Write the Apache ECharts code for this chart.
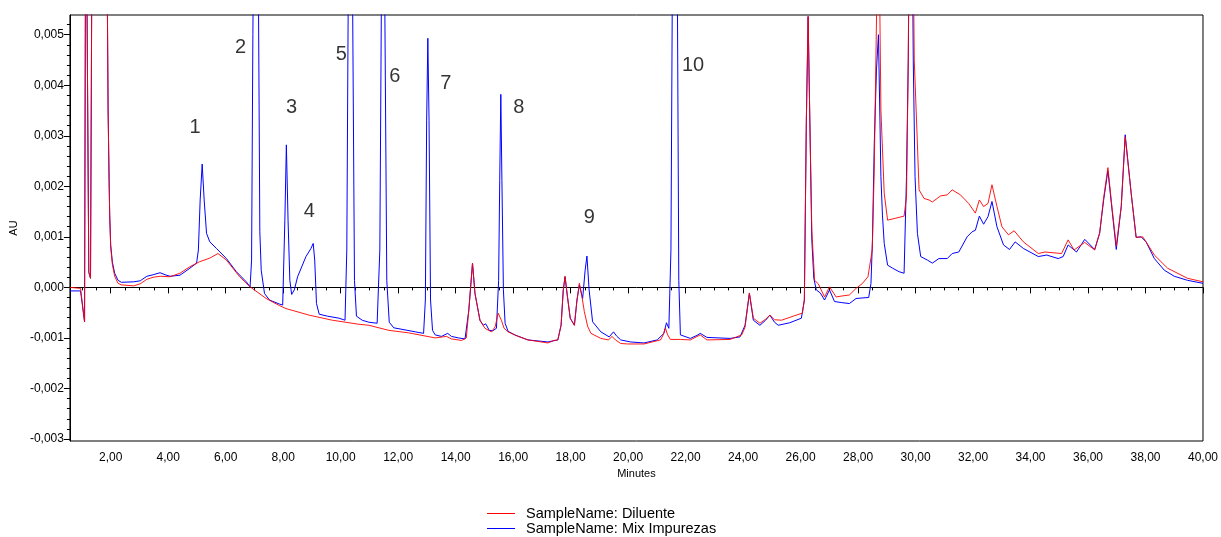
<!DOCTYPE html>
<html>
<head>
<meta charset="utf-8">
<script src="https://cdn.jsdelivr.net/npm/echarts@6/dist/echarts.min.js"></script>
<style>
  html, body { margin: 0; padding: 0; background: #fff; }
  #chart { width: 1221px; height: 537px; }
</style>
</head>
<body>
<div id="chart"></div>
<script>
// Chromatogram overlay: diluent blank vs. impurity mix (AU vs. minutes)
const FONT = '"Liberation Sans", Arial, sans-serif';

// [minutes, AU]
const diluente = [
  [0.58,0],[0.95,-0.00002],[1.089,-0.00068],[1.134,0.009],[1.185,0.009],[1.237,0.0003],[1.296,0.00018],
  [1.355,0.008],[1.642,0.012],[1.86,0.0075],[1.908,0.00351],[1.943,0.00212],[1.964,0.00143],[1.998,0.0008],
  [2.057,0.00045],[2.137,0.00022],[2.254,0.00008],[2.368,0.00005],[2.794,0.00003],[3.026,0.00007],
  [3.257,0.00016],[3.475,0.0002],[3.717,0.00022],[4.063,0.00021],[4.409,0.00028],[4.755,0.00041],
  [5.1,0.00051],[5.45,0.00058],[5.73,0.00067],[6.025,0.00054],[6.485,0.00021],[6.848,0.00001],
  [7.408,-0.00022],[7.868,-0.00036],[8.1,-0.00042],[8.906,-0.00055],[9.712,-0.00065],[10.636,-0.00073],
  [10.981,-0.00075],[11.673,-0.00085],[12.365,-0.0009],[13.288,-0.001],[13.679,-0.00097],[13.852,-0.00102],
  [14.209,-0.00105],[14.371,-0.001],[14.458,-0.00045],[14.586,0.00048],[14.672,-0.00012],[14.845,-0.00065],
  [15.018,-0.00081],[15.246,-0.00088],[15.374,-0.00078],[15.478,-0.00051],[15.53,-0.00048],[15.592,-0.00065],
  [15.685,-0.00081],[15.824,-0.00088],[16.17,-0.00097],[16.516,-0.00104],[17.208,-0.0011],[17.416,-0.00105],
  [17.554,-0.00104],[17.668,-0.00075],[17.744,-0.00005],[17.806,0.00022],[17.882,-0.00015],[17.986,-0.00061],
  [18.131,-0.00075],[18.221,-0.00025],[18.304,0.00008],[18.384,-0.00015],[18.477,-0.00048],[18.591,-0.00077],
  [18.706,-0.00091],[19.051,-0.00101],[19.318,-0.00104],[19.439,-0.00097],[19.56,-0.00104],[19.743,-0.00111],
  [19.975,-0.00112],[20.552,-0.00112],[21.128,-0.00104],[21.221,-0.00094],[21.299,-0.00081],[21.375,-0.00094],
  [21.472,-0.00103],[21.819,-0.00103],[22.165,-0.00104],[22.51,-0.00094],[22.742,-0.00104],[23.548,-0.00103],
  [23.952,-0.00094],[24.067,-0.00079],[24.219,-0.00011],[24.357,-0.00061],[24.586,-0.00071],[24.783,-0.00063],
  [24.931,-0.00055],[25.094,-0.00064],[25.337,-0.00065],[25.741,-0.00057],[26.063,-0.00051],[26.132,-0.00025],
  [26.201,0.00331],[26.263,0.00536],[26.322,0.00331],[26.391,0.00113],[26.488,0.00014],[26.616,0.00007],
  [26.834,-0.00019],[27.007,0.00001],[27.237,-0.00019],[27.444,-0.00017],[27.699,-0.00015],[27.93,-0.00002],
  [28.138,0.00007],[28.344,0.00021],[28.493,0.00074],[28.562,0.00232],[28.631,0.0049],[28.709,0.008],
  [28.795,0.00351],[28.91,0.00186],[29.027,0.00133],[29.315,0.00137],[29.601,0.00141],[29.685,0.00179],
  [29.747,0.0045],[29.833,0.012],[29.955,0.0045],[30.02,0.00351],[30.123,0.00193],[30.296,0.00176],
  [30.469,0.00173],[30.584,0.00169],[30.871,0.00181],[31.102,0.00183],[31.275,0.00193],[31.562,0.00183],
  [31.85,0.00166],[32.081,0.00147],[32.22,0.00173],[32.368,0.0016],[32.521,0.00166],[32.659,0.00203],
  [32.832,0.0016],[33.005,0.0012],[33.233,0.00104],[33.43,0.00112],[33.752,0.0009],[34.271,0.00067],
  [34.502,0.0007],[35.08,0.00067],[35.308,0.00094],[35.516,0.00074],[35.886,0.00089],[36.232,0.00074],
  [36.405,0.00108],[36.544,0.00177],[36.692,0.00237],[36.837,0.00157],[36.983,0.00082],[37.156,0.0016],
  [37.294,0.00298],[37.502,0.00186],[37.674,0.00099],[37.903,0.001],[38.066,0.00086],[38.308,0.00064],
  [38.768,0.00038],[39.46,0.00018],[40.0,0.00011]
];

// [minutes, AU]
const mixImpurezas = [
  [0.58,-0.00007],[0.95,-0.00007],[1.089,-0.00068],[1.134,0.009],[1.185,0.009],[1.237,0.0003],[1.296,0.00018],
  [1.355,0.008],[1.642,0.012],[1.86,0.0075],[1.908,0.00351],[1.943,0.00212],[1.964,0.00143],[1.998,0.00084],
  [2.057,0.0005],[2.137,0.00028],[2.254,0.00014],[2.368,0.0001],[2.794,0.00011],[3.026,0.00013],[3.257,0.00022],
  [3.475,0.00025],[3.717,0.00029],[3.89,0.00025],[4.063,0.00022],[4.409,0.00024],[4.755,0.00038],[4.987,0.00048],
  [5.049,0.00074],[5.111,0.00173],[5.181,0.00244],[5.25,0.00173],[5.333,0.00107],[5.447,0.0009],[5.679,0.00077],
  [6.025,0.00057],[6.37,0.00031],[6.716,0.00011],[6.848,0.00001],[6.9,0.00054],[6.945,0.005],[7.045,0.012],
  [7.142,0.0055],[7.187,0.0011],[7.235,0.00034],[7.349,-0.00012],[7.522,-0.00025],[7.868,-0.00033],[7.982,-0.00035],
  [8.058,0.00133],[8.11,0.00282],[8.169,0.00133],[8.231,0.00014],[8.294,-0.00014],[8.387,-0.00005],[8.501,0.00021],
  [8.792,0.00061],[8.965,0.00077],[9.044,0.00087],[9.096,0.00054],[9.158,-0.00032],[9.252,-0.00053],[9.539,-0.00057],
  [9.944,-0.00061],[10.151,-0.00065],[10.213,0.00074],[10.265,0.006],[10.335,0.012],[10.411,0.006],[10.48,0.00014],
  [10.549,-0.00057],[10.75,-0.00065],[10.981,-0.00069],[11.268,-0.00071],[11.362,0.00074],[11.42,0.006],
  [11.476,0.011],[11.53,0.006],[11.604,0.00014],[11.69,-0.00069],[11.846,-0.0008],[12.133,-0.00083],
  [12.597,-0.00088],[12.884,-0.00091],[12.946,-0.00025],[12.991,0.00331],[13.032,0.00493],[13.074,0.00331],
  [13.126,-0.00025],[13.195,-0.00085],[13.288,-0.00094],[13.506,-0.00097],[13.724,-0.00091],[13.852,-0.00097],
  [14.095,-0.001],[14.326,-0.00102],[14.458,-0.00045],[14.586,0.00048],[14.672,-0.00012],[14.845,-0.00065],
  [14.959,-0.00075],[15.046,-0.00072],[15.167,-0.00085],[15.288,-0.00086],[15.419,-0.00081],[15.495,0.00014],
  [15.533,0.00212],[15.571,0.00382],[15.609,0.00212],[15.661,-0.00005],[15.72,-0.00071],[15.824,-0.00087],
  [16.056,-0.00094],[16.516,-0.00104],[17.208,-0.00108],[17.554,-0.00104],[17.668,-0.00075],[17.744,-0.00005],
  [17.806,0.00021],[17.882,-0.00015],[17.986,-0.00061],[18.131,-0.00075],[18.221,-0.00025],[18.304,0.00005],
  [18.418,-0.00022],[18.505,0.00034],[18.567,0.00062],[18.643,-0.00005],[18.764,-0.00068],[19.051,-0.00088],
  [19.342,-0.00098],[19.491,-0.00088],[19.594,-0.00096],[19.743,-0.00104],[20.089,-0.00108],[20.552,-0.0011],
  [21.013,-0.00104],[21.244,-0.00091],[21.334,-0.0007],[21.417,-0.00081],[21.49,0.00074],[21.549,0.007],
  [21.625,0.014],[21.704,0.007],[21.763,0.00014],[21.819,-0.00094],[22.165,-0.00101],[22.396,-0.00095],
  [22.51,-0.00091],[22.742,-0.00099],[23.548,-0.00101],[23.894,-0.00098],[24.067,-0.00075],[24.219,-0.00012],
  [24.357,-0.00065],[24.586,-0.00075],[24.783,-0.00065],[24.931,-0.00055],[25.094,-0.00069],[25.222,-0.00075],
  [25.623,-0.0007],[26.028,-0.00061],[26.132,-0.00025],[26.201,0.00331],[26.263,0.00536],[26.322,0.00331],
  [26.391,0.00094],[26.46,0.00018],[26.547,-0.00005],[26.685,-0.00011],[26.834,-0.00025],[27.007,-0.00005],
  [27.18,-0.00028],[27.412,-0.0003],[27.699,-0.00032],[27.93,-0.00022],[28.138,-0.00021],[28.37,-0.0002],
  [28.449,0.00008],[28.501,0.00094],[28.564,0.00285],[28.64,0.0043],[28.709,0.005],[28.761,0.00331],
  [28.795,0.00219],[28.848,0.00143],[28.91,0.00087],[29.027,0.00044],[29.2,0.00038],[29.428,0.00031],
  [29.601,0.00028],[29.685,0.00219],[29.747,0.0045],[29.833,0.011],[29.92,0.0045],[29.982,0.00219],
  [30.065,0.00107],[30.179,0.00061],[30.411,0.00054],[30.584,0.00048],[30.812,0.00057],[31.102,0.00057],
  [31.275,0.00067],[31.504,0.0007],[31.794,0.001],[31.967,0.0011],[32.081,0.00113],[32.22,0.00141],
  [32.368,0.00125],[32.521,0.0014],[32.659,0.0017],[32.832,0.0012],[33.06,0.00084],[33.268,0.00075],
  [33.465,0.0009],[33.752,0.00077],[34.271,0.00061],[34.562,0.00064],[34.963,0.00057],[35.136,0.00061],
  [35.308,0.00084],[35.599,0.0007],[35.886,0.00095],[36.232,0.00075],[36.405,0.00107],[36.544,0.00173],
  [36.692,0.00231],[36.837,0.00153],[36.983,0.00075],[37.156,0.0016],[37.294,0.00302],[37.502,0.00186],
  [37.674,0.00099],[37.848,0.001],[38.021,0.0009],[38.308,0.00057],[38.654,0.00034],[39.0,0.00022],
  [39.46,0.00014],[40.0,0.00008]
];

// Peak numbers: [minutes, AU, label]
const peakLabels = [
  [4.93, 0.00317, '1'], [6.52, 0.00475, '2'], [8.29, 0.00356, '3'], [8.91, 0.0015, '4'],
  [10.02, 0.0046, '5'], [11.88, 0.00417, '6'], [13.66, 0.00403, '7'], [16.2, 0.00356, '8'],
  [18.65, 0.00139, '9'], [22.26, 0.0044, '10']
];

const seriesNames = ['SampleName: Diluente', 'SampleName: Mix Impurezas'];

// Axis range and ticks
const xRange = [0.58, 40];
const yRange = [-0.00304, 0.00539];
const xMajorTicks = [2, 4, 6, 8, 10, 12, 14, 16, 18, 20, 22, 24, 26, 28, 30, 32, 34, 36, 38, 40];
const yMajorTicks = [-0.003, -0.002, -0.001, 0, 0.001, 0.002, 0.003, 0.004, 0.005];

const xMinorTicks = [];
for (let k = 2; k < 80; k++) { if (k % 4 !== 0) xMinorTicks.push(k / 2); }
const yMinorTicks = [];
for (let k = -15; k <= 26; k++) { if (k % 5 !== 0) yMinorTicks.push(k / 5000); }

const black = '#000';
const baseText = { color: black, fontFamily: FONT };

const chart = echarts.init(document.getElementById('chart'), null, { renderer: 'canvas' });
chart.setOption({
  animation: false,
  backgroundColor: '#fff',
  textStyle: { fontFamily: FONT },
  grid: { left: 69, right: 12, top: 15, bottom: 96, show: true, borderColor: black, borderWidth: 1, backgroundColor: 'transparent' },
  legend: {
    data: seriesNames.map(n => ({ name: n, icon: 'rect' })),
    orient: 'vertical',
    left: 487, top: 506, padding: 0,
    itemWidth: 28, itemHeight: 1, itemGap: 0,
    textStyle: { ...baseText, fontSize: 14.5, lineHeight: 15, padding: [0, 0, 0, 6] }
  },
  xAxis: [
    {
      type: 'value', min: xRange[0], max: xRange[1], position: 'bottom',
      name: 'Minutes', nameLocation: 'middle', nameGap: 23,
      nameTextStyle: { ...baseText, fontSize: 11 },
      axisLine: { show: true, lineStyle: { color: black, width: 1 } },
      axisTick: { show: true, customValues: xMajorTicks, length: 6, lineStyle: { color: black } },
      axisLabel: { show: true, customValues: xMajorTicks, margin: 11, ...baseText, fontSize: 12,
        formatter: v => v.toFixed(2).replace('.', ',') },
      splitLine: { show: false }
    },
    {
      type: 'value', min: xRange[0], max: xRange[1], position: 'bottom',
      axisLine: { show: false },
      axisTick: { show: true, customValues: xMinorTicks, length: 3, lineStyle: { color: black } },
      axisLabel: { show: false },
      splitLine: { show: false }
    }
  ],
  yAxis: [
    {
      type: 'value', min: yRange[0], max: yRange[1], position: 'left',
      name: 'AU', nameLocation: 'middle', nameGap: 40, nameRotate: 90,
      nameTextStyle: { ...baseText, fontSize: 11 },
      axisLine: { show: true, lineStyle: { color: black, width: 1 } },
      axisTick: { show: true, customValues: yMajorTicks, length: 6, lineStyle: { color: black } },
      axisLabel: { show: true, customValues: yMajorTicks, margin: 6, ...baseText, fontSize: 12,
        formatter: v => v.toFixed(3).replace('.', ',') },
      splitLine: { show: false }
    },
    {
      type: 'value', min: yRange[0], max: yRange[1], position: 'left',
      axisLine: { show: false },
      axisTick: { show: true, customValues: yMinorTicks, length: 3, lineStyle: { color: black } },
      axisLabel: { show: false },
      splitLine: { show: false }
    }
  ],
  series: [
    {
      name: seriesNames[1], type: 'line', data: mixImpurezas,
      xAxisIndex: 0, yAxisIndex: 0,
      symbol: 'none', clip: true, silent: true,
      lineStyle: { color: '#0000ff', width: 1 }, itemStyle: { color: '#0000ff' }
    },
    {
      name: seriesNames[0], type: 'line', data: diluente,
      xAxisIndex: 0, yAxisIndex: 0,
      symbol: 'none', clip: true, silent: true,
      lineStyle: { color: '#ff0000', width: 1, opacity: 0.9 }, itemStyle: { color: '#ff0000' }
    },
    {
      name: 'peaks', type: 'scatter', silent: true,
      symbolSize: 1, itemStyle: { color: 'transparent' },
      data: peakLabels.map(p => ({ value: [p[0], p[1]], name: p[2] })),
      label: { show: true, position: 'inside', formatter: '{b}', ...baseText, fontSize: 20 }
    }
  ]
});
</script>
</body>
</html>
